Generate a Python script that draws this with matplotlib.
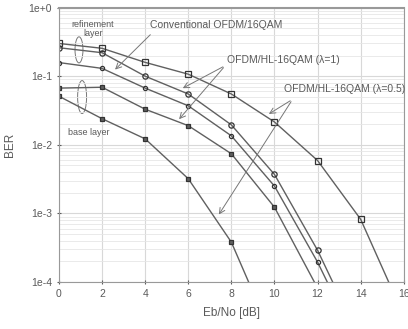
import matplotlib
matplotlib.use("Agg")
from matplotlib import pyplot as plt
from matplotlib.patches import Ellipse

plt.rcParams["font.family"] = ["Liberation Sans", "DejaVu Sans"]

# Eb/No [dB] and BER for each curve.
# last entry of each curve is where the line leaves the plot at 1e-4 (no marker)
x_ref05 = [0, 2, 4, 6, 8, 10, 12, 14, 15.3]
ber_ref05 = [0.30, 0.255, 0.159, 0.107, 0.055, 0.0215, 0.0059, 8.2e-4, 1e-4]

x_ref1 = [0, 2, 4, 6, 8, 10, 12, 12.7]
ber_ref1 = [0.26, 0.22, 0.10, 0.055, 0.0195, 0.0037, 2.9e-4, 1e-4]

x_conv = [0, 2, 4, 6, 8, 10, 12, 12.45]
ber_conv = [0.158, 0.13, 0.067, 0.037, 0.0135, 0.0025, 1.95e-4, 1e-4]

x_base1 = [0, 2, 4, 6, 8, 10, 11.85]
ber_base1 = [0.067, 0.069, 0.033, 0.019, 0.0074, 1.23e-3, 1e-4]

x_base05 = [0, 2, 4, 6, 8, 8.8]
ber_base05 = [0.051, 0.024, 0.0122, 0.0032, 3.8e-4, 1e-4]

xticks = [0, 2, 4, 6, 8, 10, 12, 14, 16]
yticks = [1e0, 1e-1, 1e-2, 1e-3, 1e-4]
ytick_labels = ["1e+0", "1e-1", "1e-2", "1e-3", "1e-4"]

line_c = "#606060"
text_c = "#5a5a5a"

fig = plt.figure(figsize=(4.08, 3.29), dpi=100)
ax = fig.add_axes([0.1446, 0.1429, 0.845, 0.834])

curves = [
    (x_ref05, ber_ref05, "s", "none", 3.8),
    (x_ref1, ber_ref1, "o", "none", 3.8),
    (x_conv, ber_conv, "o", "none", 3.0),
    (x_base1, ber_base1, "s", line_c, 3.3),
    (x_base05, ber_base05, "s", line_c, 3.3),
]
for xs, ys, m, fc, ms in curves:
    ax.plot(xs, ys, color=line_c, linewidth=1.0, marker=m, markersize=ms,
            markerfacecolor=fc, markeredgecolor="#333333", markeredgewidth=0.9,
            markevery=list(range(len(xs) - 1)))

ax.set_yscale("log")
ax.set_xlim(0, 16)
ax.set_ylim(1e-4, 1e0)
ax.set_xticks(xticks)
ax.set_yticks(yticks)
ax.set_yticklabels(ytick_labels)
ax.grid(True, which="major", color="#d8d8d8", linewidth=0.8)
ax.grid(True, which="minor", axis="y", color="#e6e6e6", linewidth=0.6)
ax.tick_params(axis="both", which="major", labelsize=7.5, colors=text_c, length=3, direction="inout")
ax.tick_params(axis="y", which="minor", length=0)
for s in ax.spines.values():
    s.set_color("#999999")
ax.spines["top"].set_linewidth(1.5)

ax.set_xlabel("Eb/No [dB]", fontsize=8.5, color=text_c, labelpad=6)
ax.set_ylabel("BER", fontsize=8.5, color=text_c, labelpad=9)

# labels and arrows
fs = 7.5
ax.text(4.23, 0.56, "Conventional OFDM/16QAM", fontsize=fs, color=text_c, va="center")
ax.annotate("", xy=(2.51, 0.117), xytext=(4.33, 0.43),
            arrowprops=dict(arrowstyle="->", color="#777777", lw=0.7))

ax.text(7.81, 0.175, "OFDM/HL-16QAM (λ=1)", fontsize=fs, color=text_c, va="center")
for ex, ey in [(5.63, 0.064), (5.49, 0.022)]:
    ax.annotate("", xy=(ex, ey), xytext=(7.72, 0.143),
                arrowprops=dict(arrowstyle="->", color="#777777", lw=0.7))

ax.text(10.42, 0.064, "OFDM/HL-16QAM (λ=0.5)", fontsize=fs, color=text_c, va="center")
for ex, ey in [(9.63, 0.0268), (7.35, 8.9e-4)]:
    ax.annotate("", xy=(ex, ey), xytext=(10.84, 0.046),
                arrowprops=dict(arrowstyle="->", color="#777777", lw=0.7))

ax.text(1.58, 0.49, "refinement\nlayer", fontsize=6.5, color=text_c,
        ha="center", va="center", linespacing=1.0)
ax.text(1.4, 0.0152, "base layer", fontsize=6.5, color=text_c, ha="center", va="center")

ax.add_patch(Ellipse((0.058, 0.846), 0.023, 0.095, transform=ax.transAxes,
                     fill=False, edgecolor="#777777", linewidth=0.7))
ax.add_patch(Ellipse((0.067, 0.674), 0.026, 0.12, transform=ax.transAxes,
                     fill=False, edgecolor="#777777", linewidth=0.7))

fig.savefig("out.png", dpi=100)
